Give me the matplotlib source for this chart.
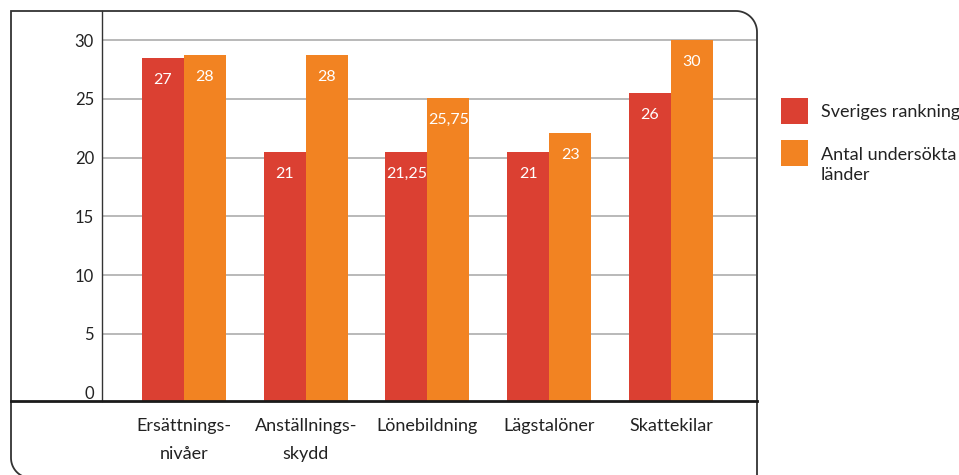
import matplotlib
matplotlib.use("Agg")
import matplotlib.pyplot as plt
import numpy as np
from matplotlib.path import Path
from matplotlib.patches import PathPatch, Rectangle
from matplotlib.lines import Line2D
from matplotlib.transforms import Affine2D

# ---------------- data ----------------
categories = ["Ersättnings-\nnivåer", "Anställnings-\nskydd", "Lönebildning",
              "Lägstalöner", "Skattekilar"]
series_names = ["Sveriges rankning", "Antal undersökta\nländer"]
rank_heights = [28.5, 20.5, 20.5, 20.5, 25.5]
count_heights = [28.7, 28.7, 25.1, 22.1, 30.0]
rank_labels = ["27", "21", "21,25", "21", "26"]
count_labels = ["28", "28", "25,75", "23", "30"]
yticks = [0, 5, 10, 15, 20, 25, 30]

# ---------------- style ----------------
RED = "#DB4032"
ORANGE = "#F28322"
W, H = 959, 475
plt.rcParams['font.family'] = ['Lato', 'DejaVu Sans']

fig = plt.figure(figsize=(W / 100, H / 100), dpi=100)
px = Affine2D().scale(1 / W, 1 / H) + fig.transFigure  # pixel coords, y up

ax = fig.add_axes([102 / W, (H - 401) / H, (756 - 102) / W, (401 - 11) / H])
ylo, yhi = -0.72, 32.47
ax.set_ylim(ylo, yhi)
ax.set_xlim(-0.673, 4.698)

x = np.arange(len(categories))
w = 0.345
ax.bar(x - w / 2, np.array(rank_heights) - ylo, width=w, bottom=ylo,
       color=RED, label=series_names[0], zorder=2)
ax.bar(x + w / 2, np.array(count_heights) - ylo, width=w, bottom=ylo,
       color=ORANGE, label=series_names[1], zorder=2)

for xs, hs, labs in ((x - w / 2, rank_heights, rank_labels),
                     (x + w / 2, count_heights, count_labels)):
    for xi, h, lab in zip(xs, hs, labs):
        ax.annotate(lab, xy=(xi, h), xytext=(0, -18.7), textcoords='offset points',
                    ha='center', va='baseline', color='white', fontsize=11.5,
                    zorder=3)

ax.set_yticks(yticks)
ax.set_yticklabels([str(t) for t in yticks])
ax.yaxis.grid(True, color='#b3b3b3', lw=1.3)
ax.set_axisbelow(True)
ax.yaxis.get_gridlines()[0].set_visible(False)
ax.tick_params(axis='y', length=0, pad=5.8, labelsize=12, labelcolor='#222222')

ax.set_xticks(x)
ax.set_xticklabels(categories)
ax.tick_params(axis='x', length=0, pad=12, labelsize=13, labelcolor='#222222')
for lab in ax.get_xticklabels():
    lab.set_linespacing(1.95)

for s in ['top', 'right', 'bottom']:
    ax.spines[s].set_visible(False)
ax.spines['left'].set_color('#333333')
ax.spines['left'].set_linewidth(1.0)

# outer frame: rounded top-right and bottom-left corners (pixel geometry)
L, T, R, r = 11, 11, 757, 21
t = np.linspace(0, np.pi / 2, 20)
tr_arc = [(R - r + r * np.sin(a), T + r - r * np.cos(a)) for a in t]
bl_cx, bl_cy, bl_r = 31, 458, 20
bl_arc = [(bl_cx - bl_r * np.cos(a), bl_cy + bl_r * np.sin(a)) for a in t]
pts = [(R, H + 5)] + tr_arc[::-1] + [(L, T)] + bl_arc
pts = [(vx, H - vy) for vx, vy in pts]
frame = PathPatch(Path(pts), transform=px, fill=False,
                  ec='#333333', lw=1.3, clip_on=False)
fig.add_artist(frame)

fig.add_artist(Line2D([L, R], [H - 401, H - 401], transform=px,
                      color='#1a1a1a', lw=2))

# legend (manual, square aligned with first text line)
fig.add_artist(Rectangle((781, H - 124), 27, 26, transform=px, fc=RED, ec='none'))
fig.add_artist(Rectangle((781, H - 166), 27, 26, transform=px, fc=ORANGE, ec='none'))
fig.text(821 / W, (H - 116.7) / H, series_names[0], fontsize=13,
         va='baseline', ha='left', color='#222222')
fig.text(821 / W, (H - 180) / H, series_names[1], fontsize=13,
         va='baseline', ha='left', color='#222222', linespacing=1.3)

fig.savefig("out.png", dpi=100)
